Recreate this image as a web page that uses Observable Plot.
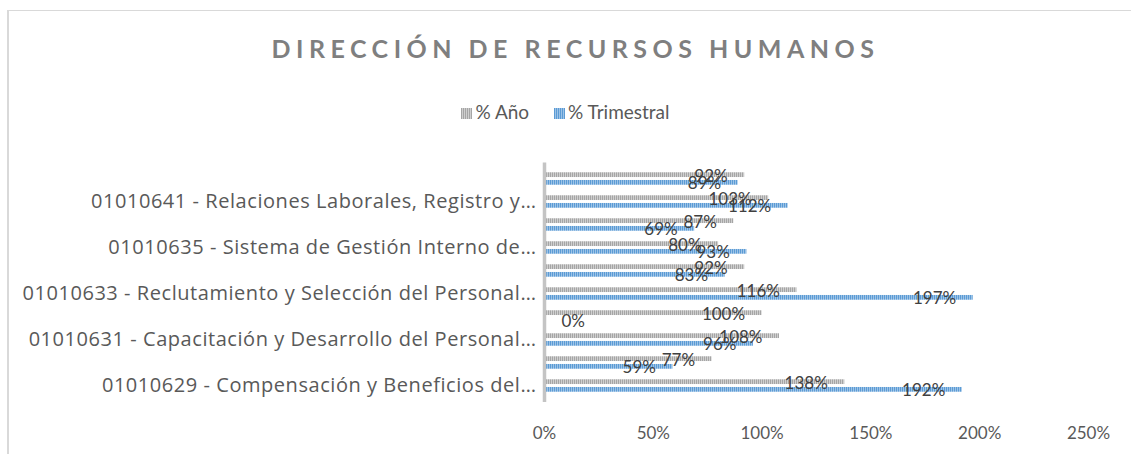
<!DOCTYPE html>
<html>
<head>
<meta charset="utf-8">
<script src="https://cdn.jsdelivr.net/npm/d3@7"></script>
<script src="https://cdn.jsdelivr.net/npm/@observablehq/plot@0.6"></script>
<style>
  body { margin: 0; background: #fff; }
  #wrap { position: relative; width: 1131px; height: 454px; overflow: hidden; font-family: Lato, "Open Sans", sans-serif; }
  #frame { position: absolute; left: 7px; top: 10px; width: 1140px; height: 460px; border-left: 2px solid #d9d9d9; border-top: 1.5px solid #d9d9d9; }
  #title { position: absolute; left: 10px; width: 1131px; top: 33px; text-align: center; font-size: 25px; font-weight: bold; letter-spacing: 5.5px; color: #7f7f7f; }
  #legend { position: absolute; left: 0; width: 1131px; top: 100px; text-align: center; font-size: 19px; color: #595959; }
  #legend span.sw { display: inline-block; width: 11px; height: 11px; margin-right: 3px; vertical-align: 0px; }
  #legend span.item { margin: 0 10px; }
  #chart { position: absolute; left: 0; top: 140px; }
  #chart g[aria-label="y-axis tick label"] text { font-family: "Open Sans", sans-serif; letter-spacing: 0.55px; }
</style>
</head>
<body>
<div id="wrap">
  <div id="frame"></div>
  <div id="title">DIRECCIÓN DE RECURSOS HUMANOS</div>
  <div id="legend">
    <span class="item"><span class="sw" style="background: repeating-linear-gradient(90deg,#a5a5a5 0 1px,#cfcfcf 1px 2px)"></span>% Año</span>
    <span class="item"><span class="sw" style="background: repeating-linear-gradient(90deg,#5b9bd5 0 1px,#9dc3e6 1px 2px)"></span>% Trimestral</span>
  </div>
  <div id="chart"></div>
</div>
<script>
// categories from top to bottom (unlabeled ones in the reference are null)
const categories = [
  null,
  "01010641 - Relaciones Laborales, Registro y…",
  null,
  "01010635 - Sistema de Gestión Interno de…",
  null,
  "01010633 - Reclutamiento y Selección del Personal…",
  null,
  "01010631 - Capacitación y Desarrollo del Personal…",
  null,
  "01010629 - Compensación y Beneficios del…"
];
const pctAnio = [92, 103, 87, 80, 92, 116, 100, 108, 77, 138];
const pctTrimestral = [89, 112, 69, 93, 83, 197, 0, 96, 59, 192];
const xTicks = [0, 50, 100, 150, 200, 250];

const ids = categories.map((_, i) => i);
const rowsA = ids.map(i => ({cat: i, v: pctAnio[i]}));
const rowsT = ids.map(i => ({cat: i, v: pctTrimestral[i]}));

const plotTop = 22.5, plotBottom = 262;
const band = (plotBottom - plotTop) / categories.length;
const half = band / 2;

const chart = Plot.plot({
  width: 1131,
  height: 314,
  marginLeft: 544,
  marginRight: 43,
  marginTop: plotTop,
  marginBottom: 314 - plotBottom,
  style: {fontFamily: "Lato, 'Open Sans', sans-serif", fontSize: "17px", color: "#595959", background: "transparent"},
  x: {domain: [0, 250], ticks: xTicks, tickFormat: d => d + "%", label: null},
  y: {domain: ids, padding: 0, label: null, tickFormat: i => categories[i] ?? ""},
  marks: [
    Plot.axisX({ticks: xTicks, tickFormat: d => d + "%", tickSize: 0, tickPadding: 24, fontSize: 17, fill: "#595959", label: null}),
    Plot.axisY({tickSize: 0, tickPadding: 8, fontSize: 20, fill: "#595959", label: null, tickFormat: i => categories[i] ?? ""}),
    Plot.barX(rowsA, {x: "v", y: "cat", fill: "url(#patA)", insetTop: half - 6.7, insetBottom: half + 1}),
    Plot.barX(rowsT, {x: "v", y: "cat", fill: "url(#patT)", insetTop: half + 1, insetBottom: half - 6.7}),
    Plot.ruleX([0], {stroke: "#c4c4c4", strokeWidth: 3.5}),
    Plot.text(rowsA, {filter: d => d.v > 0, x: "v", y: "cat", text: d => d.v + "%", textAnchor: "end", dx: -17, dy: -2.5, fontSize: 17, fill: "#404040"}),
    Plot.text(rowsT, {filter: d => d.v > 0, x: "v", y: "cat", text: d => d.v + "%", textAnchor: "end", dx: -17, dy: 5, fontSize: 17, fill: "#404040"}),
    Plot.text(rowsT, {filter: d => d.v === 0, x: "v", y: "cat", text: d => d.v + "%", textAnchor: "start", dx: 17, dy: 5, fontSize: 17, fill: "#404040"})
  ]
});

const defs = `
<defs>
  <pattern id="patA" width="2" height="4" patternUnits="userSpaceOnUse">
    <rect width="2" height="4" fill="#cfcfcf"/><rect width="1" height="4" fill="#a5a5a5"/>
  </pattern>
  <pattern id="patT" width="2" height="4" patternUnits="userSpaceOnUse">
    <rect width="2" height="4" fill="#9dc3e6"/><rect width="1" height="4" fill="#5b9bd5"/>
  </pattern>
</defs>`;
chart.insertAdjacentHTML("afterbegin", defs);
document.getElementById("chart").appendChild(chart);
</script>
</body>
</html>
